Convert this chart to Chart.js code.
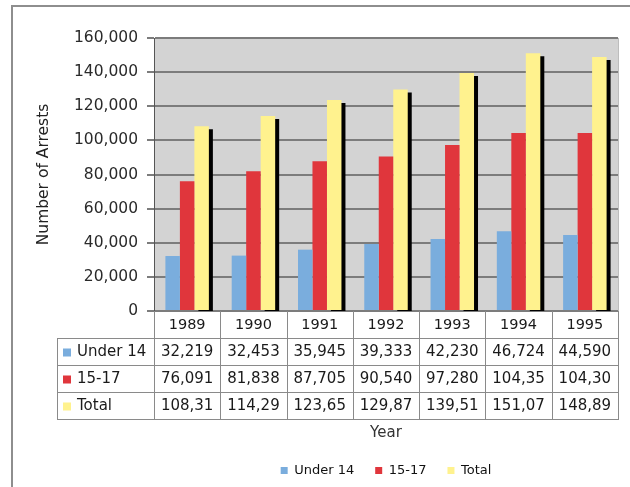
<!DOCTYPE html>
<html>
<head>
<meta charset="utf-8">
<script src="https://cdn.jsdelivr.net/npm/chart.js@4/dist/chart.umd.min.js"></script>
<style>
  html, body { margin: 0; padding: 0; background: #fff; }
  #wrap { width: 630px; height: 487px; }
</style>
</head>
<body>
<div id="wrap"><canvas id="arrestsChart"></canvas></div>
<script>
// Arrests by age group, 1989-1995
const years = ['1989', '1990', '1991', '1992', '1993', '1994', '1995'];
const under14 = [32219, 32453, 35945, 39333, 42230, 46724, 44590];
const age15to17 = [76091, 81838, 87705, 90540, 97280, 104350, 104300];
const total = [108310, 114291, 123650, 129873, 139510, 151074, 148890];
const seriesNames = ['Under 14', '15-17', 'Total'];
const yTicks = [0, 20000, 40000, 60000, 80000, 100000, 120000, 140000, 160000];

const colors = ['#7aaddd', '#e0363c', '#fff28e'];
const FONT = 'DejaVu Sans';

// grey plot background + outer frame
const backdrop = {
    id: 'backdrop',
    beforeDraw(chart) {
        const { ctx, chartArea: a } = chart;
        ctx.save();
        ctx.fillStyle = '#d3d3d3';
        ctx.fillRect(a.left, a.top, a.right - a.left, a.bottom - a.top);
        ctx.strokeStyle = '#bdbdbd';
        ctx.lineWidth = 1;
        ctx.strokeRect(a.left + 0.5, a.top + 0.5, a.right - a.left, a.bottom - a.top);
        ctx.strokeStyle = '#8e8e8e';
        ctx.lineWidth = 2;
        ctx.beginPath();
        ctx.moveTo(12, 487);
        ctx.lineTo(12, 6);
        ctx.lineTo(630, 6);
        ctx.stroke();
        ctx.restore();
    }
};

// black drop shadow on the Total bars
const barShadow = {
    id: 'barShadow',
    beforeDatasetDraw(chart, args) {
        if (args.index !== 2) return;
        const ctx = chart.ctx;
        ctx.save();
        ctx.shadowColor = '#000';
        ctx.shadowBlur = 0;
        ctx.shadowOffsetX = 4;
        ctx.shadowOffsetY = 3;
    },
    afterDatasetDraw(chart, args) {
        if (args.index !== 2) return;
        chart.ctx.restore();
    }
};

// data table under the x axis
const dataTable = {
    id: 'dataTable',
    afterDraw(chart) {
        const { ctx, chartArea: a, scales: { x } } = chart;
        const rows = [under14, age15to17, total];
        const headH = 27, rowH = 27, tableLeft = 57;
        const top = a.bottom;
        const rowsTop = top + headH;
        const bottom = rowsTop + rowH * rows.length;

        const edges = [a.left];
        for (let i = 0; i < years.length - 1; i++) {
            edges.push(Math.round((x.getPixelForValue(i) + x.getPixelForValue(i + 1)) / 2));
        }
        edges.push(a.right);

        ctx.save();
        ctx.strokeStyle = '#8a8a8a';
        ctx.lineWidth = 1;
        ctx.beginPath();
        edges.forEach(ex => {
            ctx.moveTo(ex + 0.5, top);
            ctx.lineTo(ex + 0.5, bottom);
        });
        ctx.moveTo(tableLeft + 0.5, rowsTop);
        ctx.lineTo(tableLeft + 0.5, bottom);
        for (let r = 0; r <= rows.length; r++) {
            const y = rowsTop + r * rowH + 0.5;
            ctx.moveTo(tableLeft, y);
            ctx.lineTo(a.right + 1, y);
        }
        ctx.stroke();

        ctx.font = '15px "' + FONT + '"';
        ctx.textBaseline = 'middle';
        rows.forEach((vals, r) => {
            const cy = rowsTop + r * rowH + rowH / 2 + 1;
            ctx.fillStyle = colors[r];
            ctx.fillRect(63, cy - 4, 8, 8);
            ctx.fillStyle = '#1a1a1a';
            ctx.textAlign = 'left';
            ctx.fillText(seriesNames[r], 77, cy);
            ctx.textAlign = 'center';
            vals.forEach((v, i) => {
                // cells are too narrow for 7 characters, the last digit is cut off
                const txt = v.toLocaleString('en-US').slice(0, 6);
                ctx.fillText(txt, x.getPixelForValue(i), cy);
            });
        });
        ctx.restore();
    }
};

const ctx = document.getElementById('arrestsChart').getContext('2d');

new Chart(ctx, {
    type: 'bar',
    data: {
        labels: years,
        datasets: [
            { label: seriesNames[0], data: under14, backgroundColor: colors[0] },
            { label: seriesNames[1], data: age15to17, backgroundColor: colors[1] },
            { label: seriesNames[2], data: total, backgroundColor: colors[2] }
        ]
    },
    options: {
        responsive: true,
        maintainAspectRatio: false,
        animation: false,
        layout: { padding: { left: 12, top: 38, right: 12, bottom: 0 } },
        datasets: {
            bar: { categoryPercentage: 0.656, barPercentage: 1.0 }
        },
        scales: {
            x: {
                grid: { display: false, drawTicks: false },
                border: { display: false },
                ticks: {
                    color: '#1a1a1a',
                    padding: 6,
                    font: { family: FONT, size: 14.5 }
                },
                title: {
                    display: true,
                    text: 'Year',
                    color: '#333',
                    padding: { top: 0, bottom: 1 },
                    font: { family: FONT, size: 15 }
                },
                afterFit(scale) { scale.height = 132; }
            },
            y: {
                min: 0,
                max: 160000,
                afterBuildTicks(scale) { scale.ticks = yTicks.map(v => ({ value: v })); },
                grid: { color: '#7c7c7c', lineWidth: 2, tickLength: 7 },
                border: { display: true, color: '#555', width: 1 },
                ticks: {
                    color: '#2a2a2a',
                    padding: 9,
                    font: { family: FONT, size: 15.5 },
                    callback: v => v.toLocaleString('en-US')
                },
                title: {
                    display: true,
                    text: 'Number of Arrests',
                    color: '#222',
                    padding: { top: 23, bottom: 0 },
                    font: { family: FONT, size: 15.5 }
                },
                afterFit(scale) { scale.width = 142; }
            }
        },
        plugins: {
            legend: {
                position: 'bottom',
                fullSize: false,
                labels: {
                    boxWidth: 7,
                    boxHeight: 7,
                    padding: 21,
                    color: '#111',
                    font: { family: FONT, size: 13 }
                }
            },
            tooltip: { enabled: false }
        }
    },
    plugins: [backdrop, barShadow, dataTable]
});
</script>
</body>
</html>
